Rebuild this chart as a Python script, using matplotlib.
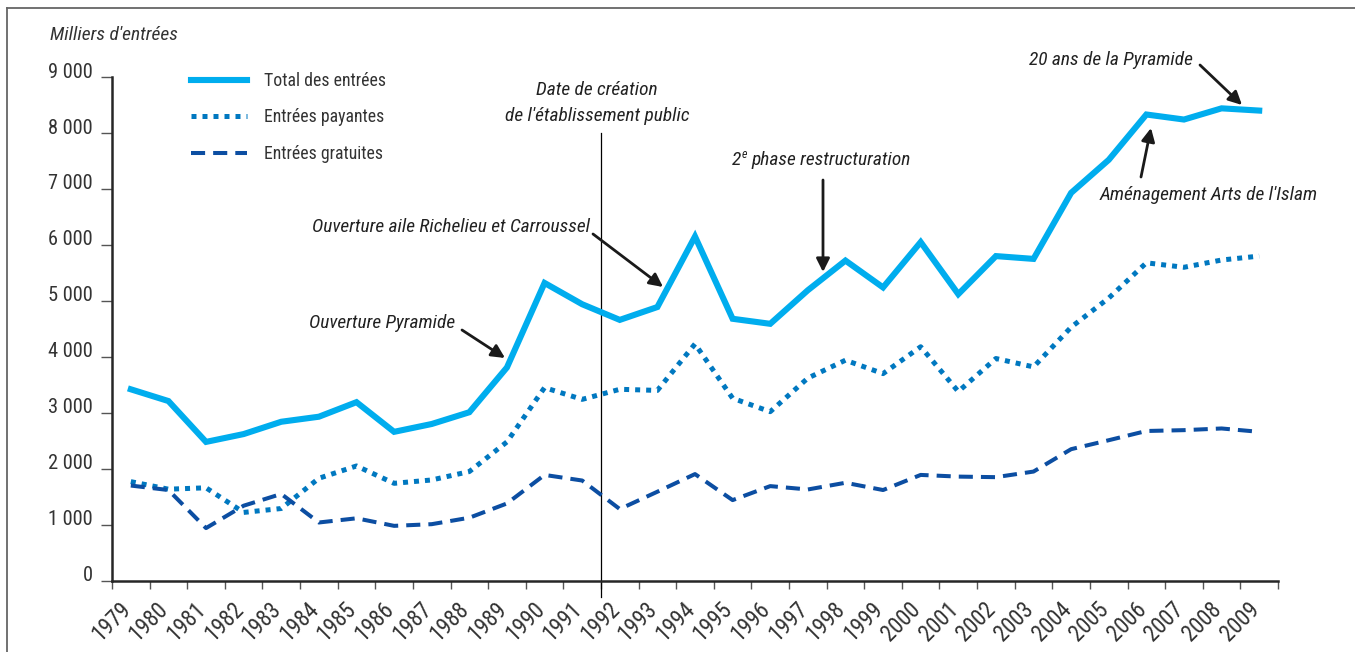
import matplotlib
matplotlib.use('Agg')
import numpy as np
import matplotlib.pyplot as plt
import matplotlib.ticker as ticker
import matplotlib.transforms as mtransforms
from matplotlib import font_manager as fm
from matplotlib.lines import Line2D

#%% Data (milliers d'entrées)
years = list(range(1979, 2010))
total = [3420, 3210, 2480, 2620, 2840, 2930, 3190, 2660, 2800, 3010, 3810,
         5320, 4940, 4660, 4890, 6150, 4680, 4590, 5190, 5720, 5240, 6050,
         5120, 5800, 5750, 6930, 7520, 8330, 8240, 8440, 8400]
payantes = [1770, 1635, 1660, 1220, 1290, 1830, 2050, 1740, 1800, 1950, 2480,
            3450, 3240, 3420, 3400, 4230, 3260, 3020, 3620, 3940, 3700, 4180,
            3380, 3970, 3820, 4530, 5050, 5680, 5600, 5730, 5800]
gratuites = [1700, 1620, 940, 1340, 1550, 1040, 1115, 980, 1010, 1125, 1380,
             1890, 1790, 1280, 1590, 1905, 1440, 1690, 1630, 1750, 1620, 1890,
             1860, 1850, 1950, 2350, 2510, 2675, 2690, 2720, 2660]
labels = ['Total des entrées', 'Entrées payantes', 'Entrées gratuites']

#%% Font: a condensed sans if one is around
fonts = fm.fontManager.ttflist
def has(name, stretches=None):
    return any(f.name == name and (stretches is None or f.stretch in stretches)
               for f in fonts)

if has('Liberation Sans Narrow'):
    fam, stretch = 'Liberation Sans Narrow', 'normal'
elif has('Roboto Condensed'):
    fam, stretch = 'Roboto Condensed', 'normal'
elif has('DejaVu Sans', ('condensed', 'semi-condensed')):
    fam, stretch = 'DejaVu Sans', 'condensed'
else:
    fam, stretch = 'Liberation Sans', 'normal'
plt.rcParams['font.family'] = [fam, 'DejaVu Sans']
plt.rcParams['font.stretch'] = stretch
txt_color = '#333333'

fig = plt.figure(figsize=(13.55, 6.52), dpi=100)
renderer = fig.canvas.get_renderer()

# font sizes chosen so that texts get the reference widths (in px)
def fit(text, target, style='normal'):
    t = fig.text(0, 0, text, fontsize=14, style=style)
    w = t.get_window_extent(renderer).width
    t.remove()
    return 14 * target / w

fs_leg = fit('Total des entrées', 123)
fs_ytick = fit('9 000', 45)
fs_xtick = fs_ytick * 1.12
fs_note = fit('Ouverture aile Richelieu et Carroussel', 280, 'italic')
fs_unit = fit("Milliers d'entrées", 128, 'italic')

ax = fig.add_axes([112/1355, 1 - 580.7/652, 1166/1355, 503.7/652])

x = np.arange(len(years)) + 0.5

ax.plot(x, total, color='#00adee', lw=4.4, solid_joinstyle='miter',
        label=labels[0], zorder=4)
ax.plot(x, payantes, color='#0078c0', lw=3.6, linestyle=(0, (1, 1.2)),
        label=labels[1], zorder=3)
ax.plot(x, gratuites, color='#0c4ea2', lw=2.9, linestyle=(0, (3.5, 2)),
        label=labels[2], zorder=3)

# Axes
ax.set_xlim(0, len(years))
ax.set_ylim(0, 9000)
for sp in ['top', 'right']:
    ax.spines[sp].set_visible(False)
for sp in ['left', 'bottom']:
    ax.spines[sp].set_color('#262626')
    ax.spines[sp].set_linewidth(1.8)

ax.yaxis.set_major_locator(ticker.MultipleLocator(1000))
ax.yaxis.set_major_formatter(
    ticker.FuncFormatter(lambda v, p: f'{int(v):,}'.replace(',', ' ')))
ax.set_xticks(np.arange(len(years) + 1))
ax.set_xticklabels([str(y) for y in years] + [''])

ax.tick_params(axis='y', length=8, width=1, color='#555555', pad=6,
               labelsize=fs_ytick, labelcolor=txt_color)
ax.tick_params(axis='x', length=6, width=1, color='#555555', pad=6,
               labelsize=fs_xtick, labelcolor=txt_color)

offset_x = mtransforms.ScaledTranslation(5/72, 0, fig.dpi_scale_trans)
for lab in ax.get_xticklabels():
    lab.set_rotation(45)
    lab.set_ha('right')
    lab.set_va('top')
    lab.set_rotation_mode('anchor')
    lab.set_transform(lab.get_transform() + offset_x)
offset_y = mtransforms.ScaledTranslation(0, 5/72, fig.dpi_scale_trans)
for lab in ax.get_yticklabels():
    lab.set_transform(lab.get_transform() + offset_y)

# Legend
ax.legend(loc='upper left', bbox_to_anchor=(191/1355, 1 - 72/652),
          bbox_transform=fig.transFigure, frameon=False, fontsize=fs_leg,
          handlelength=2.9*14/fs_leg, handletextpad=0.85*14/fs_leg,
          labelspacing=0.95*14/fs_leg,
          borderpad=0, borderaxespad=0, labelcolor=txt_color)

# Unit label
fig.text(50/1355, 1 - 35/652, "Milliers d'entrées", fontsize=fs_unit,
         style='italic', color=txt_color, va='center', ha='left')

# Vertical line : création de l'établissement public
ax.axvline(13, ymin=(580.7 - 597)/503.7, ymax=(580.7 - 133)/503.7,
           color='black', lw=0.9, clip_on=False, zorder=2)

#%% Annotations (figure pixel coords)
def px(xp, yp):
    return (xp, 652 - yp)

def note(text, xp, yp, ha='left'):
    return ax.annotate(text, xy=px(xp, yp), xycoords='figure pixels',
                       fontsize=fs_note, style='italic', color='#222222',
                       ha=ha, va='center', annotation_clip=False)

def arrow(tail, head):
    ax.annotate('', xy=px(*head), xycoords='figure pixels',
                xytext=px(*tail), textcoords='figure pixels',
                arrowprops=dict(arrowstyle='-|>', color='#1a1a1a', lw=2,
                                mutation_scale=20, shrinkA=0, shrinkB=0),
                annotation_clip=False)

note('Date de création', 597, 90, ha='center')
note("de l'établissement public", 597, 116, ha='center')

note('Ouverture aile Richelieu et Carroussel', 590, 227, ha='right')
arrow((593, 234), (663, 287))

note('Ouverture Pyramide', 455, 323, ha='right')
arrow((462, 330), (505, 358))

# "2e phase restructuration" with superscript e
t2 = note('2', 732, 160)
te = ax.annotate('e', xy=(1, 0.8), xycoords=t2, xytext=(0.5, 0),
                 textcoords='offset points', fontsize=fs_note*0.62,
                 style='italic', color='#222222', ha='left', va='center',
                 annotation_clip=False)
ax.annotate('phase restructuration', xy=(1, 0.5), xycoords=(te, t2),
            xytext=(3, 0), textcoords='offset points', fontsize=fs_note,
            style='italic', color='#222222', ha='left', va='center',
            annotation_clip=False)
arrow((823, 180), (823, 272))

note('20 ans de la Pyramide', 1193, 60, ha='right')
arrow((1200, 65), (1242, 105))

note("Aménagement Arts de l'Islam", 1100, 195)
arrow((1141, 177), (1151, 128))

# Frame around figure (top and left edges visible)
fig.add_artist(Line2D([7/1355, 7/1355], [0, 1 - 8/652], color='#666666',
                      lw=1.3, transform=fig.transFigure))
fig.add_artist(Line2D([7/1355, 1], [1 - 8/652, 1 - 8/652], color='#666666',
                      lw=1.3, transform=fig.transFigure))

#%% Save figure
fig.savefig('out.png', dpi=100)
